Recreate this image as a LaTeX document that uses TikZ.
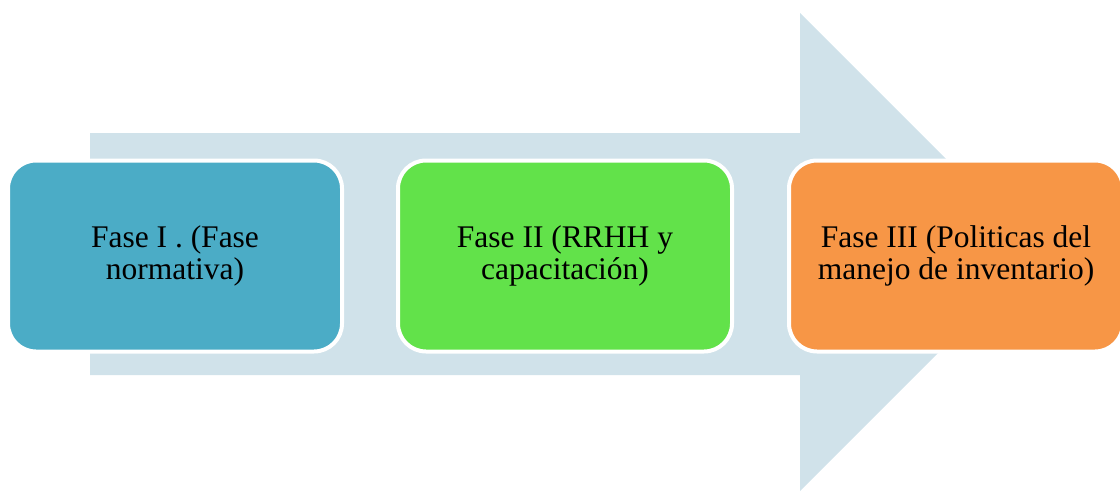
\documentclass[tikz,border=0pt]{standalone}
\usepackage{fontspec}
\setmainfont{Liberation Serif}
\definecolor{arrowc}{HTML}{D0E2EA}
\definecolor{bluec}{HTML}{4BACC6}
\definecolor{greenc}{HTML}{62E24A}
\definecolor{orangec}{HTML}{F79646}
\begin{document}
\begin{tikzpicture}[x=1pt,y=-1pt,
  phase/.style={rectangle, rounded corners=28pt, draw=white, line width=4pt,
    minimum width=334pt, minimum height=191pt, align=center, inner sep=0pt,
    font=\fontsize{31.5}{31.5}\selectfont, text=black}]
\useasboundingbox (0,0) rectangle (1120,491);
\fill[arrowc] (90,133) -- (800,133) -- (800,13) -- (1039,252) -- (800,491) -- (800,375) -- (90,375) -- cycle;
\node[phase, fill=bluec] (p1) at (175,256) {Fase I . (Fase\\normativa)};
\node[phase, fill=greenc] (p2) at (565,256) {Fase II (RRHH y\\capacitación)};
\node[phase, fill=orangec] (p3) at (956,256) {Fase III (Politicas del\\manejo de inventario)};
\end{tikzpicture}
\end{document}
